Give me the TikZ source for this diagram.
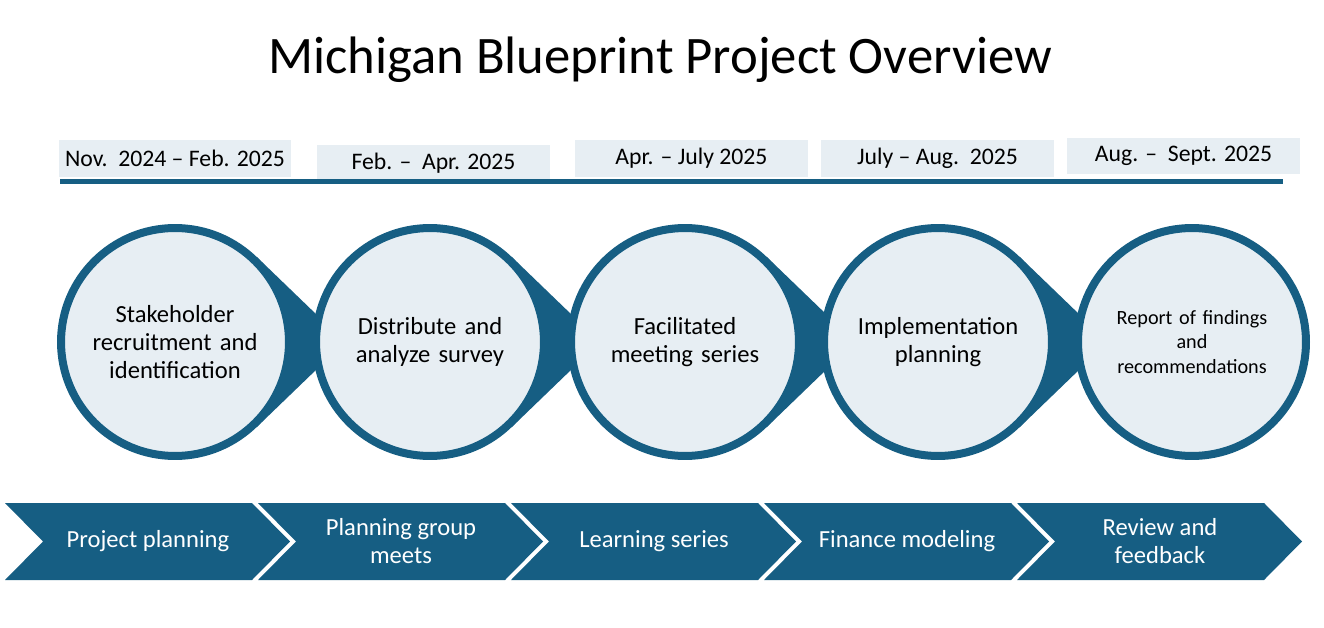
\documentclass[tikz,border=0pt]{standalone}
\usepackage{fontspec}
\setmainfont{Carlito}
\usetikzlibrary{calc}
\definecolor{bpblue}{RGB}{22,94,131}
\definecolor{bplight}{RGB}{231,238,243}
\tikzset{
  datebox/.style={fill=bplight,minimum width=4.66cm,minimum height=0.74cm,inner sep=0pt,font=\fontsize{13.5}{15}\selectfont},
  stage/.style={circle,draw=bpblue,line width=0.16cm,fill=bplight,minimum size=4.56cm,inner sep=0pt,align=center,text width=3.3cm,font=\fontsize{14}{16}\selectfont},
  phase/.style={fill=bpblue},
  phasetext/.style={text=white,align=center,font=\fontsize{14}{16}\selectfont}
}
\begin{document}
\begin{tikzpicture}[x=0.02cm,y=-0.02cm]
    \useasboundingbox (0,0) rectangle (1324,628);
    %Title
    \node[font=\fontsize{30}{36}\selectfont] (title) at (660,60) {Michigan Blueprint Project Overview};

    %Dates
    \node[datebox] (d1) at (175,158.5) {Nov.\ \ 2024 -- Feb. 2025};
    \node[datebox] (d2) at (433.5,163) {Feb. --\ \ Apr. 2025};
    \node[datebox] (d3) at (691.5,158.5) {Apr. -- July 2025};
    \node[datebox] (d4) at (937.5,158.5) {July -- Aug.\ \ 2025};
    \node[datebox] (d5) at (1183.5,156) {Aug. --\ \ Sept. 2025};
    \coordinate (tl) at (60,182);
    \coordinate (tr) at (1283,182);
    \draw[bpblue,line width=0.1cm] (tl) -- (tr);

    %Stages
    \foreach \cx/\name/\txt in {175/s1/{Stakeholder recruitment and identification},430/s2/{Distribute and analyze survey},685/s3/{Facilitated meeting series},938/s4/{Implementation planning}}{
      \coordinate (\name c) at (\cx,342);
      \fill[bpblue] ($(\name c)+(46:2.36cm)$) -- ($(\name c)+(3.4cm,0)$) -- ($(\name c)+(-46:2.36cm)$) -- cycle;
      \node[stage] (\name) at (\name c) {\txt};
    }
    \node[stage,font=\fontsize{11.5}{14}\selectfont] (s5) at (1192,342) {Report of findings\\and\\recommendations};

    %Phases
    \foreach \lx/\name/\txt in {5/p1/{Project planning},258/p2/{Planning group\\meets},511/p3/{Learning series},764/p4/{Finance modeling},1017/p5/{Review and\\feedback}}{
      \fill[phase] (\lx,503) -- ++(247,0) -- ++(38,38.5) -- ++(-38,38.5) -- ++(-247,0) -- ++(38,-38.5) -- cycle;
      \node[phasetext] (\name) at (\lx+143,541) {\txt};
    }
\end{tikzpicture}
\end{document}
